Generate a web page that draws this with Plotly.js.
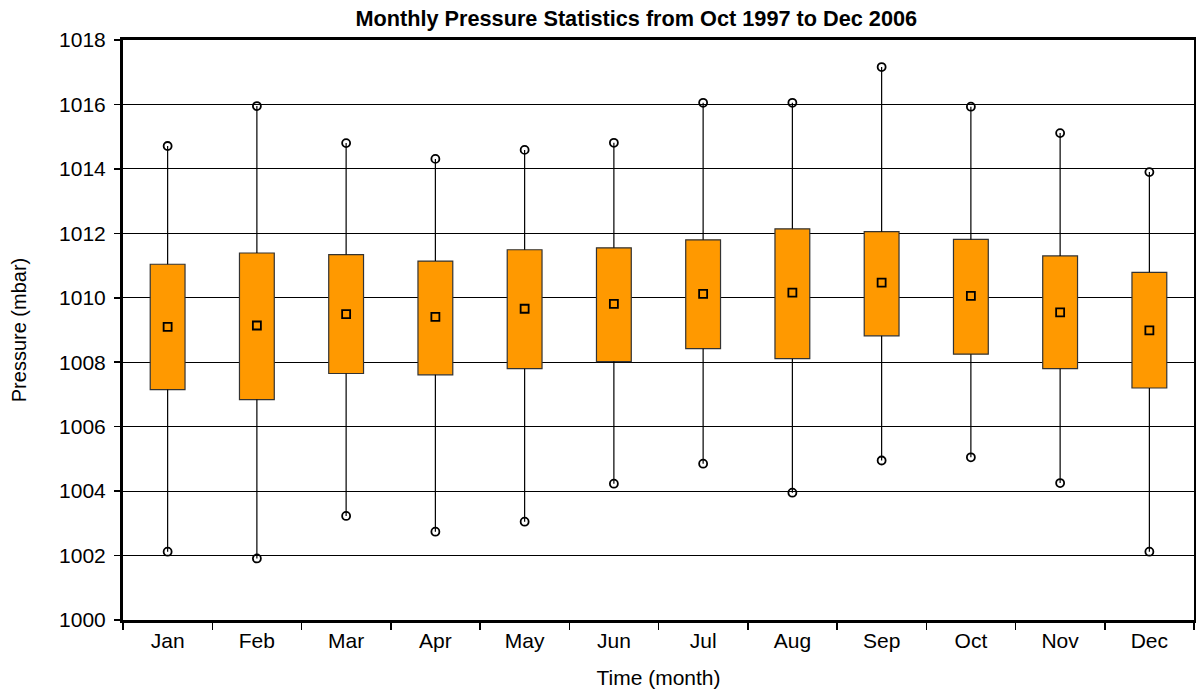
<!DOCTYPE html>
<html><head><meta charset="utf-8">
<script src="https://cdn.plot.ly/plotly-3.0.1.min.js"></script>
<style>body{margin:0;padding:0;background:#fff}#chart{width:1196px;height:690px}</style>
</head><body><div id="chart"></div>
<script>
const months = ["Jan","Feb","Mar","Apr","May","Jun","Jul","Aug","Sep","Oct","Nov","Dec"];
const maxVals = [1014.71,1015.95,1014.80,1014.31,1014.59,1014.81,1016.05,1016.05,1017.16,1015.93,1015.11,1013.90];
const q3Vals  = [1011.04,1011.39,1011.34,1011.14,1011.49,1011.55,1011.80,1012.14,1012.05,1011.81,1011.30,1010.79];
const meanVals= [1009.10,1009.14,1009.49,1009.41,1009.66,1009.81,1010.12,1010.16,1010.47,1010.06,1009.55,1008.99];
const q1Vals  = [1007.15,1006.84,1007.65,1007.61,1007.80,1008.02,1008.42,1008.11,1008.82,1008.25,1007.80,1007.20];
const minVals = [1002.12,1001.91,1003.23,1002.74,1003.05,1004.23,1004.85,1003.95,1004.95,1005.05,1004.25,1002.12];

const wx = [], wy = [];
months.forEach((m,i)=>{
  wx.push(m,m,null,m,m,null);
  wy.push(q3Vals[i],maxVals[i],null,q1Vals[i],minVals[i],null);
});

const traces = [
  {type:'bar', x:months, base:q1Vals, y:q3Vals.map((v,i)=>v-q1Vals[i]), width:0.39,
   marker:{color:'#FF9900', line:{color:'#333333', width:1.2}}, hoverinfo:'skip'},
  {type:'scatter', mode:'lines', x:wx, y:wy, line:{color:'#000', width:1.2}, hoverinfo:'skip', connectgaps:false},
  {type:'scatter', mode:'markers', x:months, y:maxVals, marker:{symbol:'circle-open', size:8, color:'#000', line:{width:1.8}}},
  {type:'scatter', mode:'markers', x:months, y:minVals, marker:{symbol:'circle-open', size:8, color:'#000', line:{width:1.8}}},
  {type:'scatter', mode:'markers', x:months, y:meanVals, marker:{symbol:'square-open', size:8, color:'#000', line:{width:1.8}}}
];

const layout = {
  width:1196, height:690,
  margin:{l:123, r:2, t:40, b:70},
  paper_bgcolor:'#fff', plot_bgcolor:'#fff',
  showlegend:false,
  font:{family:'Liberation Sans, Arial, sans-serif', color:'#000', size:21},
  title:{text:'<b>Monthly Pressure Statistics from Oct 1997 to Dec 2006</b>', font:{size:21.7}, x:0.532, xanchor:'center', y:0.974, yanchor:'middle'},
  xaxis:{type:'category', showline:true, linewidth:3, linecolor:'#000', mirror:true,
         ticks:'outside', tickson:'boundaries', ticklen:7, tickwidth:1.5, tickcolor:'#000',
         showgrid:false, tickfont:{size:21}, range:[-0.5,11.5], automargin:false,
         title:{text:'Time (month)', font:{size:21}, standoff:20}},
  yaxis:{range:[1000,1018], dtick:2, showline:true, linewidth:3, linecolor:'#000', mirror:true,
         ticks:'outside', ticklen:6, tickwidth:1.5, tickcolor:'#000', ticklabelstandoff:4,
         showgrid:true, gridcolor:'#000', gridwidth:1.2, zeroline:false, automargin:false,
         tickfont:{size:21},
         title:{text:'Pressure (mbar)', font:{size:20}, standoff:28}}
};
Plotly.newPlot('chart', traces, layout, {displayModeBar:false, staticPlot:true});
</script></body></html>
